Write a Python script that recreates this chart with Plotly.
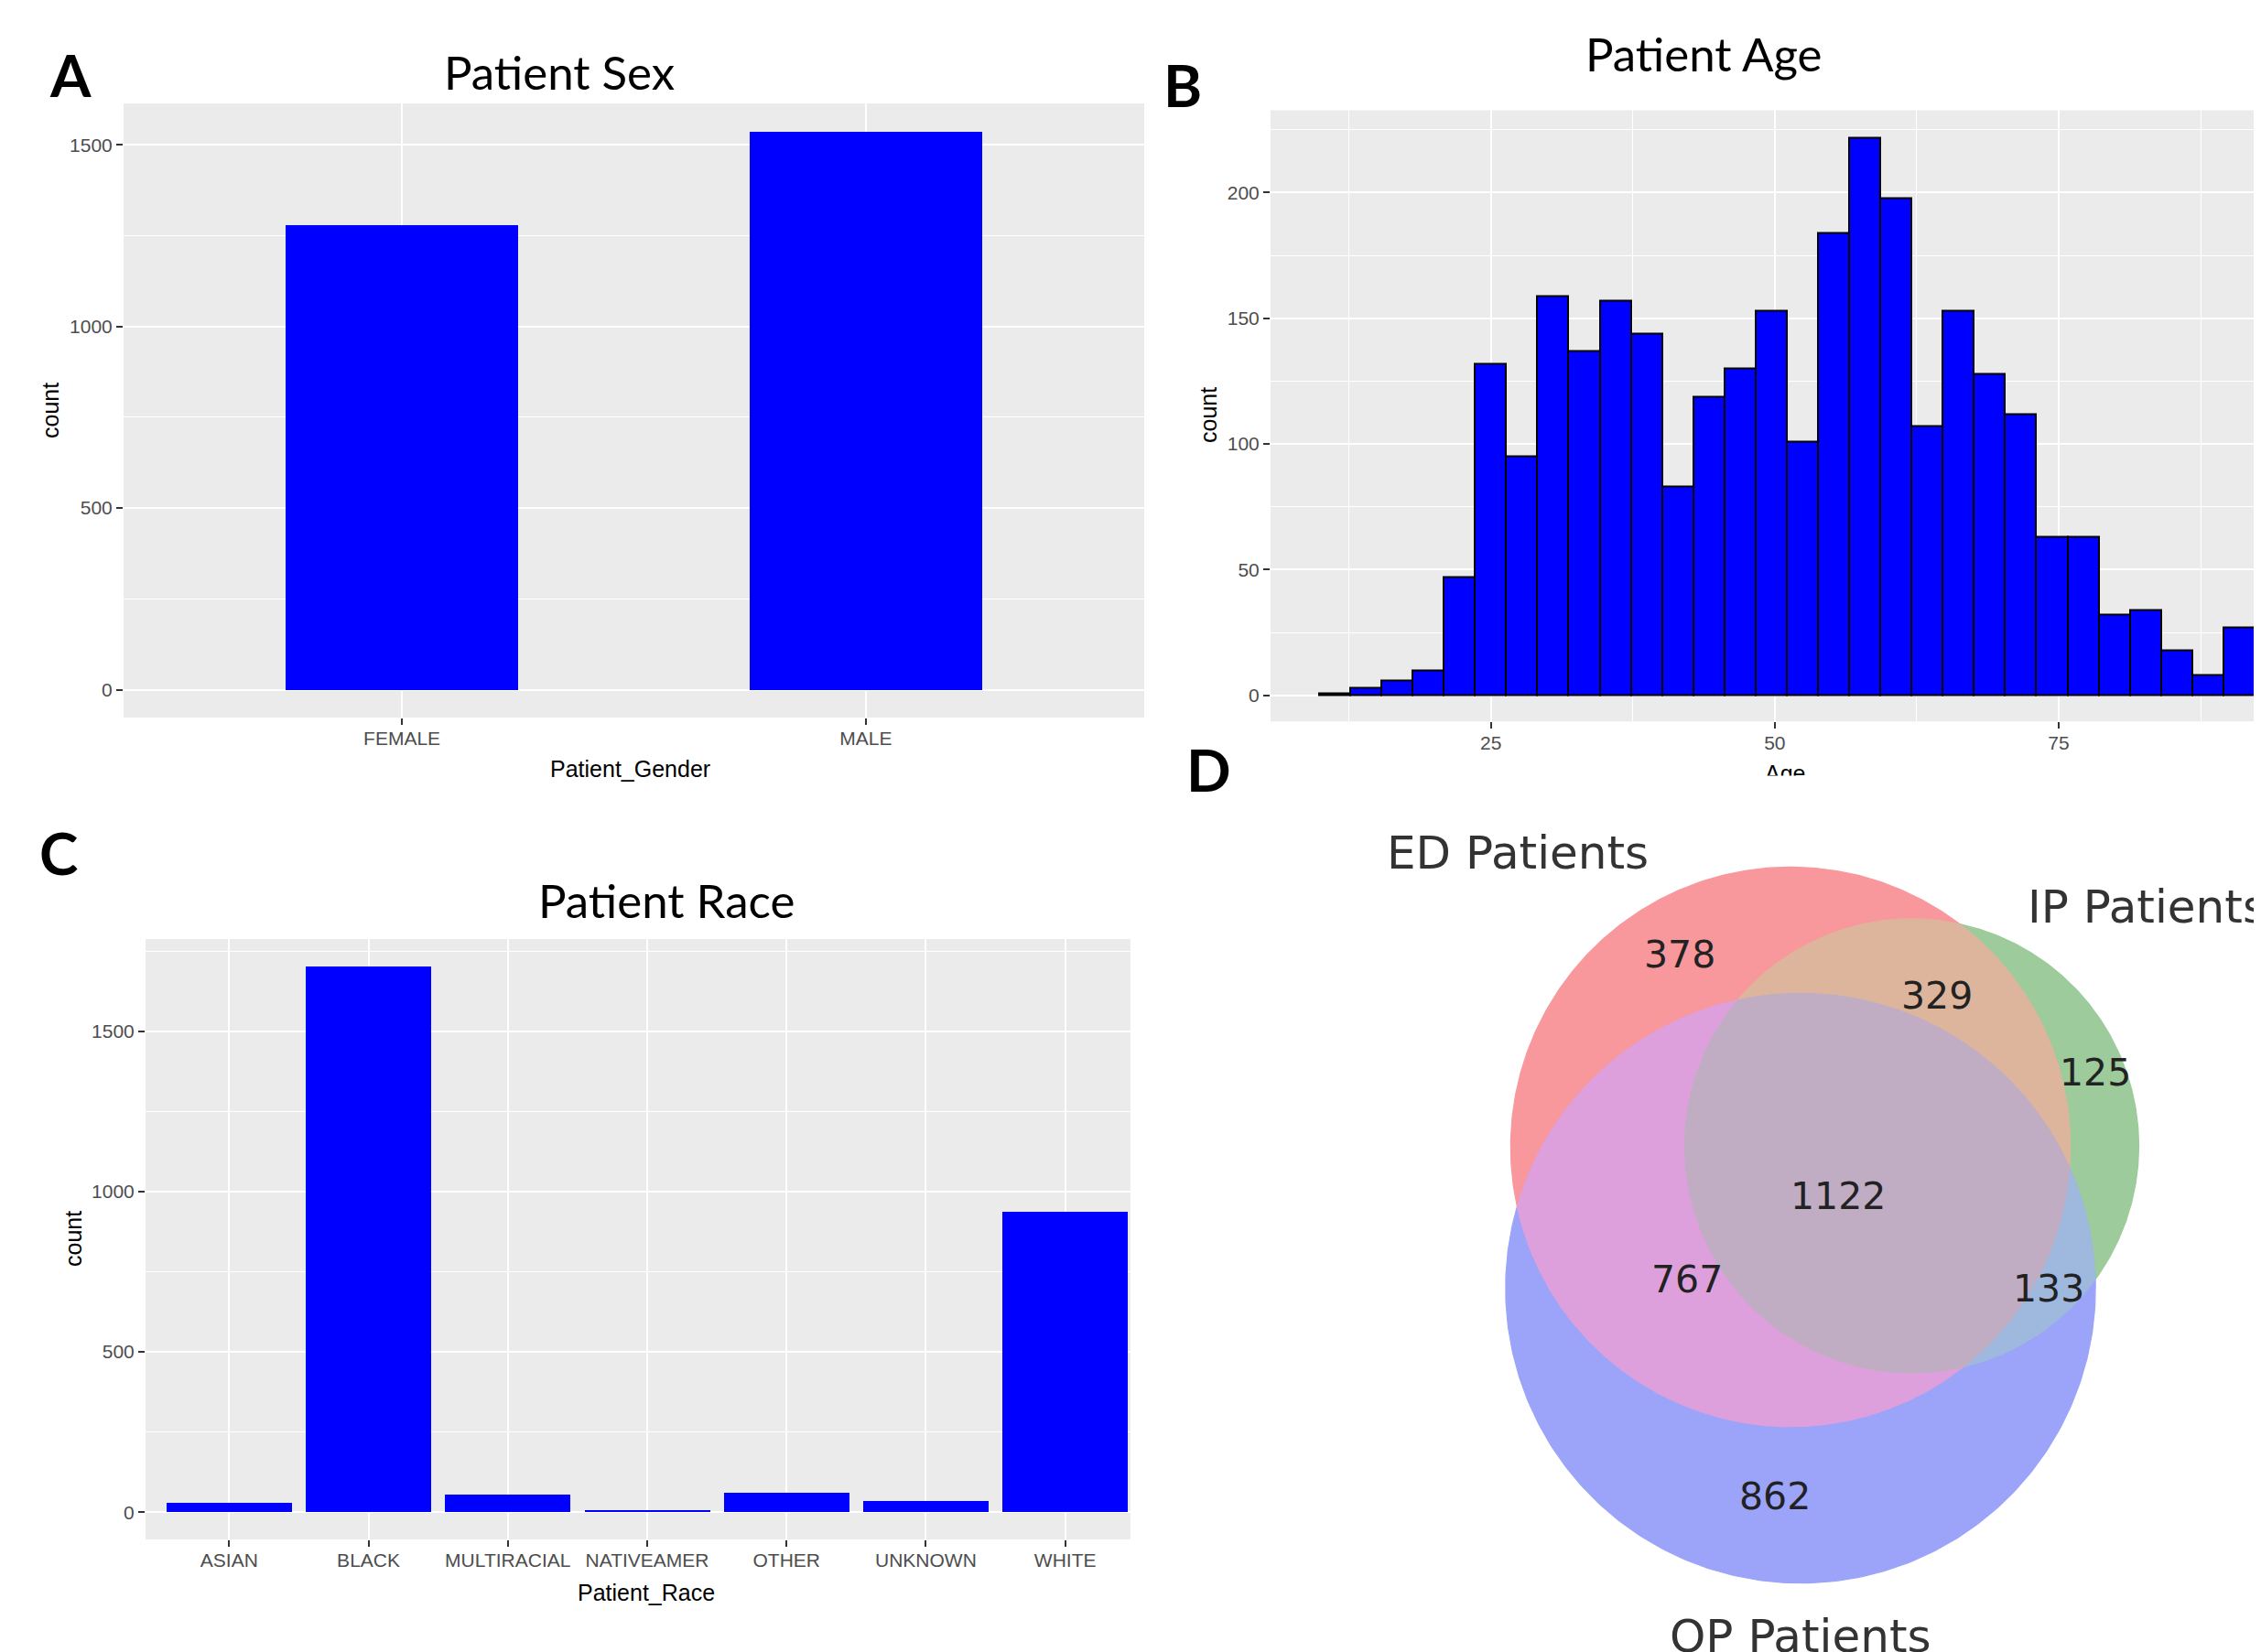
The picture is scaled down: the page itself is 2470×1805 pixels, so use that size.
import numpy as np
import plotly.graph_objects as go

# The page body has an 8px default margin, so the figure is drawn 8px smaller
# and every reference position is shifted by that offset.
REF_W, REF_H = 2470, 1805
OFF = 8
W, H = REF_W - OFF, REF_H - OFF

# ---------------- data ----------------
sex_categories = ["FEMALE", "MALE"]
sex_counts = [1280, 1537]

age_bin_start = 9.87
age_bin_width = 2.746
age_counts = [1, 3, 6, 10, 47, 132, 95, 159, 137, 157, 144, 83, 119, 130, 153,
              101, 184, 222, 198, 107, 153, 128, 112, 63, 63, 32, 34, 18, 8, 27]
age_ticks = [25, 50, 75]

race_categories = ["ASIAN", "BLACK", "MULTIRACIAL", "NATIVEAMER", "OTHER", "UNKNOWN", "WHITE"]
race_counts = [30, 1703, 55, 6, 60, 35, 936]

count_ticks_big = [0, 500, 1000, 1500]
count_ticks_age = [0, 50, 100, 150, 200]

venn_set_labels = ["ED Patients", "IP Patients", "OP Patients"]
venn_region_codes = ["100", "010", "110", "001", "101", "011", "111"]
venn_region_counts = [378, 125, 329, 862, 767, 133, 1122]

# ---------------- styling / layout helpers ----------------
def px(x):
    return (x - OFF) / W

def py(y):
    return 1 - (y - OFF) / H

BLUE = "#0000FF"
PANEL = "#EBEBEB"
TICKFONT = dict(family="Liberation Sans, Arial, sans-serif", size=21, color="#4D4D4D")
TITLEFONT = dict(family="Liberation Sans, Arial, sans-serif", size=25, color="black")
HEADFONT = dict(family="Lato, Calibri, sans-serif", size=51, color="black")
LETTERFONT = dict(family="Lato, Calibri, sans-serif", size=64, color="black")
VENNFONT = dict(family="DejaVu Sans, sans-serif", size=50, color="#333333")
NUMFONT = dict(family="DejaVu Sans, sans-serif", size=41, color="#222222")

region_colors = {"100": "#F8989D", "010": "#9DCB9B", "110": "#DDB59C",
                 "001": "#9CA4F9", "101": "#DDA0DC", "011": "#9EB8DE",
                 "111": "#C1ADC3"}

fig = go.Figure()

# Panel A
fig.add_trace(go.Bar(x=sex_categories, y=sex_counts, width=0.5,
                     marker=dict(color=BLUE, line=dict(width=0)),
                     xaxis="x", yaxis="y", showlegend=False))

# Panel B (histogram from bin counts)
age_centers = [age_bin_start + age_bin_width * (i + 0.5) for i in range(len(age_counts))]
fig.add_trace(go.Bar(x=age_centers, y=age_counts, width=age_bin_width,
                     marker=dict(color=BLUE, line=dict(color="black", width=2)),
                     xaxis="x2", yaxis="y2", showlegend=False))

# Panel C
fig.add_trace(go.Bar(x=race_categories, y=race_counts, width=0.9,
                     marker=dict(color=BLUE, line=dict(width=0)),
                     xaxis="x3", yaxis="y3", showlegend=False))

# Panel D: area-proportional Venn diagram
set_sizes = [sum(c for code, c in zip(venn_region_codes, venn_region_counts) if code[i] == "1")
             for i in range(3)]
radii = [np.sqrt(s) for s in set_sizes]
# circle centre offsets (layout of the diagram, in the same units as the radii)
centers = [(0.0, 0.0), (22.08, 0.17), (1.83, -25.75)]
circles = [(cx, cy, r) for (cx, cy), r in zip(centers, radii)]
UNIT = 6.0          # pixels per diagram unit
ED_CX, ED_CY = 1956, 1253   # reference-pixel position of the first circle centre


def circle_intersections(c1, c2):
    (x1, y1, r1), (x2, y2, r2) = c1, c2
    d = np.hypot(x2 - x1, y2 - y1)
    a = (r1 ** 2 - r2 ** 2 + d ** 2) / (2 * d)
    h = np.sqrt(max(r1 ** 2 - a ** 2, 0))
    xm = x1 + a * (x2 - x1) / d
    ym = y1 + a * (y2 - y1) / d
    return [(xm + h * (y2 - y1) / d, ym - h * (x2 - x1) / d),
            (xm - h * (y2 - y1) / d, ym + h * (x2 - x1) / d)]


def inside(p, c):
    return (p[0] - c[0]) ** 2 + (p[1] - c[1]) ** 2 < c[2] ** 2


angles = [[] for _ in circles]
for i in range(3):
    for j in range(i + 1, 3):
        for p in circle_intersections(circles[i], circles[j]):
            angles[i].append(np.arctan2(p[1] - circles[i][1], p[0] - circles[i][0]))
            angles[j].append(np.arctan2(p[1] - circles[j][1], p[0] - circles[j][0]))

arcs = []
for i, (cx, cy, r) in enumerate(circles):
    a = sorted(angles[i])
    for k in range(len(a)):
        a0 = a[k]
        a1 = a[(k + 1) % len(a)]
        if a1 <= a0:
            a1 += 2 * np.pi
        t = np.linspace(a0, a1, 240)
        pts = np.column_stack([cx + r * np.cos(t), cy + r * np.sin(t)])
        mid = pts[len(t) // 2]
        memb = [inside(mid, c) for c in circles]
        arcs.append((i, memb, pts))


def region_polygon(code):
    want = [ch == "1" for ch in code]
    segs = [pts for (i, memb, pts) in arcs
            if all(memb[j] == want[j] for j in range(3) if j != i)]
    poly = [segs.pop(0)]
    while segs:
        end = poly[-1][-1]
        dists = [min(np.hypot(*(s[0] - end)), np.hypot(*(s[-1] - end))) for s in segs]
        s = segs.pop(int(np.argmin(dists)))
        if np.hypot(*(s[-1] - end)) < np.hypot(*(s[0] - end)):
            s = s[::-1]
        poly.append(s)
    return np.vstack(poly)


for code in venn_region_codes:
    poly = region_polygon(code)
    col = region_colors[code]
    fig.add_trace(go.Scatter(x=poly[:, 0], y=poly[:, 1], mode="lines", fill="toself",
                             fillcolor=col, line=dict(color=col, width=1.2),
                             xaxis="x4", yaxis="y4", showlegend=False, hoverinfo="skip"))

# label positions of the diagram (same units)
region_label_pos = {"100": (-20.17, 35.0), "010": (55.5, 13.5), "110": (26.67, 27.5),
                    "001": (-2.83, -63.67), "101": (-18.83, -24.17), "011": (47.0, -25.83),
                    "111": (8.67, -9.0)}
set_label_pos = [(-49.67, 53.5, "center"), (42.83, 43.7, "left"), (1.83, -89.2, "center")]

annotations = []
for code, cnt in zip(venn_region_codes, venn_region_counts):
    x, y = region_label_pos[code]
    annotations.append(dict(x=x, y=y, xref="x4", yref="y4", text=str(cnt), showarrow=False,
                            font=NUMFONT, xanchor="center", yanchor="middle"))
for lab, (x, y, anc) in zip(venn_set_labels, set_label_pos):
    annotations.append(dict(x=x, y=y, xref="x4", yref="y4", text=lab, showarrow=False,
                            font=VENNFONT, xanchor=anc, yanchor="middle"))


def paper_text(x, y, text, font, angle=0):
    annotations.append(dict(x=px(x), y=py(y), xref="paper", yref="paper", text=text,
                            showarrow=False, font=font, textangle=angle,
                            xanchor="center", yanchor="middle"))


# panel titles and letters
paper_text(611, 79, "Patient Sex", HEADFONT)
paper_text(1861, 58, "Patient Age", HEADFONT)
paper_text(728, 983, "Patient Race", HEADFONT)
paper_text(77, 81, "<b>A</b>", LETTERFONT)
paper_text(1292, 92, "<b>B</b>", LETTERFONT)
paper_text(64, 931, "<b>C</b>", LETTERFONT)
paper_text(1320, 840, "<b>D</b>", LETTERFONT)

# axis titles
paper_text(55, 448, "count", TITLEFONT, -90)
paper_text(688, 840, "Patient_Gender", TITLEFONT)
paper_text(1320, 454, "count", TITLEFONT, -90)
paper_text(80, 1354, "count", TITLEFONT, -90)
paper_text(706, 1740, "Patient_Race", TITLEFONT)
paper_text(1950, 845, "Age", TITLEFONT)
# the original picture is cropped just below the top of the "Age" title
annotations.append(dict(x=px(1950), y=py(847), xref="paper", yref="paper", text=" ",
                        showarrow=False, bgcolor="white", width=160, height=44,
                        borderpad=0, xanchor="center", yanchor="top"))

common_axis = dict(showline=False, zeroline=False, ticks="outside", ticklen=7, tickwidth=2,
                   tickcolor="#333333", tickfont=TICKFONT, showgrid=True,
                   gridcolor="white", gridwidth=2.4)
minor_grid = dict(showgrid=True, gridcolor="white", gridwidth=1.2, ticks="")

shapes = []
for xa, ya in [("x", "y"), ("x2", "y2"), ("x3", "y3")]:
    shapes.append(dict(type="rect", xref=f"{xa} domain", yref=f"{ya} domain",
                       x0=0, x1=1, y0=0, y1=1, fillcolor=PANEL, line=dict(width=0),
                       layer="below"))

# Venn axis: domain spans reference x 1235..2470, y 902.5..1805 at UNIT px per unit
vx0, vx1, vy0, vy1 = 1235, REF_W, 902.5, REF_H

fig.update_layout(
    width=W, height=H, autosize=False,
    margin=dict(l=0, r=0, t=0, b=0),
    paper_bgcolor="white", plot_bgcolor="white",
    bargap=0, showlegend=False,
    xaxis=dict(common_axis, domain=[px(135), px(1250)], range=[-0.6, 1.6], anchor="y",
               ticklabelstandoff=-3),
    yaxis=dict(common_axis, domain=[py(784), py(113)], range=[-76.85, 1613.85],
               tickvals=count_ticks_big, anchor="x",
               minor=dict(minor_grid, dtick=250, tick0=0)),
    xaxis2=dict(common_axis, domain=[px(1388), 1.0], range=[5.6, 92.82],
                tickvals=age_ticks, anchor="y2", ticklabelstandoff=-3,
                minor=dict(minor_grid, dtick=12.5, tick0=0)),
    yaxis2=dict(common_axis, domain=[py(788.3), py(120.4)], range=[-10.4, 232.8],
                tickvals=count_ticks_age, anchor="x2",
                minor=dict(minor_grid, dtick=25, tick0=0)),
    xaxis3=dict(common_axis, domain=[px(159), px(1255)], range=[-0.6, 6.6], anchor="y3",
                ticklabelstandoff=-3),
    yaxis3=dict(common_axis, domain=[py(1682), py(1026)], range=[-85, 1788],
                tickvals=count_ticks_big, anchor="x3",
                minor=dict(minor_grid, dtick=250, tick0=0)),
    xaxis4=dict(domain=[px(vx0), px(vx1)],
                range=[(vx0 - ED_CX) / UNIT, (vx1 - ED_CX) / UNIT],
                visible=False, anchor="y4"),
    yaxis4=dict(domain=[py(vy1), py(vy0)],
                range=[(ED_CY - vy1) / UNIT, (ED_CY - vy0) / UNIT],
                visible=False, anchor="x4"),
    shapes=shapes,
    annotations=annotations,
)

fig.write_html("out.html")
